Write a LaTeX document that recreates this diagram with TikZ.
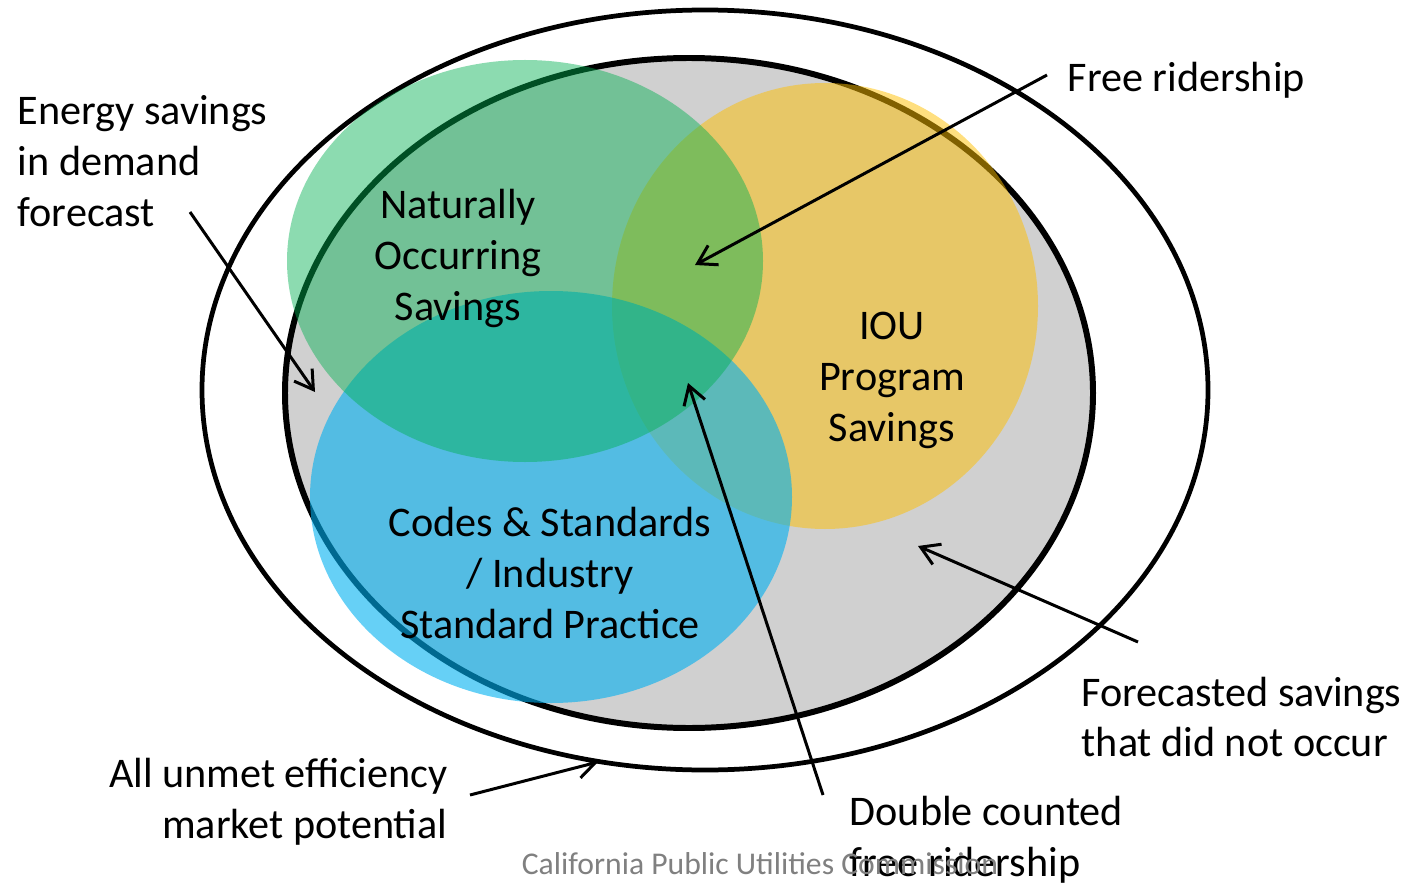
\documentclass[tikz,border=0pt]{standalone}
\usepackage{fontspec}
\setmainfont{Carlito}
\usetikzlibrary{arrows.meta}
\definecolor{ringgray}{RGB}{208,208,208}
\definecolor{natgreen}{RGB}{0,176,80}
\definecolor{iouyellow}{RGB}{255,192,0}
\definecolor{codeblue}{RGB}{0,176,240}
\begin{document}
\begin{tikzpicture}[x=0.01cm, y=-0.01cm,
    lbl/.style={inner sep=0pt, font=\fontsize{12}{14.5}\selectfont},
    ptr/.style={line width=0.85pt, -{Straight Barb[length=1.8mm,width=2.2mm]}}]
  \useasboundingbox (0,0) rectangle (1409,885);
  % market potential and forecast
  \draw[line width=1.35pt] (705,390) ellipse [x radius=503, y radius=380];
  \draw[line width=1.7pt, fill=ringgray] (689,393) ellipse [x radius=404, y radius=335];
  % savings sets
  \fill[iouyellow, opacity=0.5] (825,306) ellipse [x radius=213, y radius=223];
  \fill[codeblue, opacity=0.6] (551,497) ellipse [x radius=241, y radius=206];
  \fill[natgreen, opacity=0.45] (525,261) ellipse [x radius=238, y radius=201];
  \node[lbl, align=center] (natural) at (458,258) {Naturally\\Occurring\\Savings};
  \node[lbl, align=center] (iou) at (892,380) {IOU\\Program\\Savings};
  \node[lbl, align=center] (codes) at (550,573) {Codes \& Standards\\/ Industry\\Standard Practice};
  % labels outside
  \node[lbl, align=left, anchor=west] (demand) at (17,161) {Energy savings\\in demand\\forecast};
  \node[lbl, anchor=west] (free) at (1067,80) {Free ridership};
  \node[lbl, align=left, anchor=west] (notoccur) at (1081,717) {Forecasted savings\\that did not occur};
  \node[lbl, align=left, anchor=west] (double) at (849,840) {Double counted\\free ridership};
  \node[lbl, align=right, anchor=east] (unmet) at (448,802) {All unmet efficiency\\market potential};
  % pointer ends
  \coordinate (demandFoot) at (190,212);
  \coordinate (demandTip) at (315,392);
  \coordinate (freeFoot) at (1047,75);
  \coordinate (freeTip) at (695,265);
  \coordinate (notoccurFoot) at (1138,642);
  \coordinate (notoccurTip) at (918,546);
  \coordinate (doubleFoot) at (823,795);
  \coordinate (doubleTip) at (688,383);
  \coordinate (unmetFoot) at (470,795);
  \coordinate (unmetTip) at (598,762);
  \draw[ptr] (demandFoot) -- (demandTip);
  \draw[ptr] (freeFoot) -- (freeTip);
  \draw[ptr] (notoccurFoot) -- (notoccurTip);
  \draw[ptr] (doubleFoot) -- (doubleTip);
  \draw[ptr] (unmetFoot) -- (unmetTip);
  \node[inner sep=0pt, text=black!50, font=\fontsize{9}{11}\selectfont] (cpuc) at (760,864) {California Public Utilities Commission};
\end{tikzpicture}
\end{document}
